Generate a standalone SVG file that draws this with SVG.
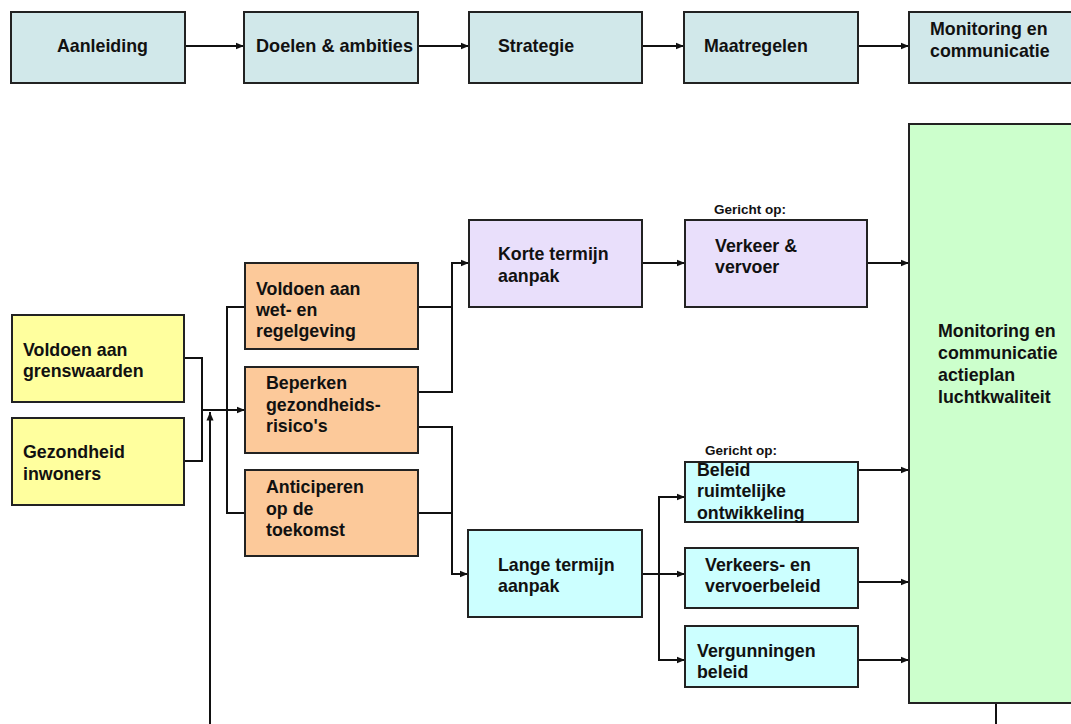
<svg xmlns="http://www.w3.org/2000/svg" width="1071" height="724" viewBox="0 0 1071 724">
<style>
.b{stroke:#222;stroke-width:2}
.top{fill:#D1E8EA}
.yel{fill:#FFFF9E}
.org{fill:#FCC99A}
.lav{fill:#E9DFFB}
.cyn{fill:#CCFFFF}
.grn{fill:#CCFFCC}
text{font-family:"Liberation Sans",Arial,sans-serif;font-size:17.8px;font-weight:bold;fill:#111}
.sm{font-size:13.5px}
.c{fill:none;stroke:#111;stroke-width:2}
</style>
<defs>
<marker id="ar" markerUnits="userSpaceOnUse" markerWidth="9" markerHeight="8" refX="8.5" refY="4" orient="auto">
<path d="M0,0.5 L8.5,4 L0,7.5 z" fill="#111"/>
</marker>
</defs>
<rect width="1071" height="724" fill="#fff"/>
<g id="connectors">
<line class="c" x1="185" y1="46" x2="244" y2="46" marker-end="url(#ar)"/>
<line class="c" x1="418" y1="46" x2="469" y2="46" marker-end="url(#ar)"/>
<line class="c" x1="642" y1="46" x2="684" y2="46" marker-end="url(#ar)"/>
<line class="c" x1="858" y1="46" x2="909" y2="46" marker-end="url(#ar)"/>
<polyline class="c" points="184,358 202,358 202,461 184,461"/>
<line class="c" x1="202" y1="410" x2="245" y2="410" marker-end="url(#ar)"/>
<polyline class="c" points="245,307 227,307 227,513 245,513"/>
<line class="c" x1="210" y1="724" x2="210" y2="412" marker-end="url(#ar)"/>
<polyline class="c" points="418,307 452,307"/>
<polyline class="c" points="418,392 452,392 452,263 469,263" marker-end="url(#ar)"/>
<polyline class="c" points="418,427 452,427 452,574 468,574" marker-end="url(#ar)"/>
<line class="c" x1="418" y1="513" x2="452" y2="513"/>
<line class="c" x1="642" y1="263" x2="685" y2="263" marker-end="url(#ar)"/>
<line class="c" x1="858" y1="263" x2="909" y2="263" marker-end="url(#ar)"/>
<line class="c" x1="642" y1="574" x2="685" y2="574" marker-end="url(#ar)"/>
<polyline class="c" points="685,497 659,497 659,660 685,660" marker-end="url(#ar)"/>
<line class="c" x1="659" y1="497" x2="685" y2="497" marker-end="url(#ar)"/>
<line class="c" x1="858" y1="470" x2="909" y2="470" marker-end="url(#ar)"/>
<line class="c" x1="858" y1="582" x2="909" y2="582" marker-end="url(#ar)"/>
<line class="c" x1="858" y1="660" x2="909" y2="660" marker-end="url(#ar)"/>
<line class="c" x1="996" y1="703" x2="996" y2="724"/>
</g>
<g id="n-aanleiding"><rect class="b top" x="11" y="12" width="174" height="71"/><text x="57" y="52">Aanleiding</text></g>
<g id="n-doelen"><rect class="b top" x="244" y="12" width="174" height="71"/><text x="256" y="52" textLength="157" lengthAdjust="spacingAndGlyphs">Doelen &amp; ambities</text></g>
<g id="n-strategie"><rect class="b top" x="469" y="12" width="173" height="71"/><text x="498" y="52">Strategie</text></g>
<g id="n-maatregelen"><rect class="b top" x="684" y="12" width="174" height="71"/><text x="704" y="52">Maatregelen</text></g>
<g id="n-monitoring-top"><rect class="b top" x="909" y="12" width="170" height="71"/><text x="930" y="35">Monitoring en</text><text x="930" y="57">communicatie</text></g>
<g id="n-grenswaarden"><rect class="b yel" x="12" y="315" width="172" height="87"/><text x="23" y="356">Voldoen aan</text><text x="23" y="377">grenswaarden</text></g>
<g id="n-gezondheid"><rect class="b yel" x="12" y="418" width="172" height="87"/><text x="23" y="458">Gezondheid</text><text x="23" y="480">inwoners</text></g>
<g id="n-wet"><rect class="b org" x="245" y="263" width="173" height="86"/><text x="256" y="295">Voldoen aan</text><text x="256" y="316">wet- en</text><text x="256" y="337">regelgeving</text></g>
<g id="n-beperken"><rect class="b org" x="245" y="367" width="173" height="86"/><text x="266" y="389">Beperken</text><text x="266" y="411">gezondheids-</text><text x="266" y="432">risico's</text></g>
<g id="n-anticiperen"><rect class="b org" x="245" y="470" width="173" height="86"/><text x="266" y="493">Anticiperen</text><text x="266" y="515">op de</text><text x="266" y="536">toekomst</text></g>
<g id="n-korte"><rect class="b lav" x="469" y="220" width="173" height="87"/><text x="498" y="260">Korte termijn</text><text x="498" y="282">aanpak</text></g>
<g id="n-verkeer"><text class="sm" x="714" y="214">Gericht op:</text><rect class="b lav" x="685" y="220" width="182" height="87"/><text x="715" y="252">Verkeer &amp;</text><text x="715" y="273">vervoer</text></g>
<g id="n-lange"><rect class="b cyn" x="468" y="530" width="174" height="87"/><text x="498" y="571">Lange termijn</text><text x="498" y="592">aanpak</text></g>
<g id="n-ruimtelijk"><text class="sm" x="705" y="455">Gericht op:</text><rect class="b cyn" x="685" y="462" width="173" height="60"/><text x="697" y="476">Beleid</text><text x="697" y="497">ruimtelijke</text><text x="697" y="519">ontwikkeling</text></g>
<g id="n-verkeersbeleid"><rect class="b cyn" x="685" y="548" width="173" height="60"/><text x="705" y="571">Verkeers- en</text><text x="705" y="592">vervoerbeleid</text></g>
<g id="n-vergunningen"><rect class="b cyn" x="685" y="626" width="173" height="61"/><text x="697" y="657">Vergunningen</text><text x="697" y="678">beleid</text></g>
<g id="n-monitoring"><rect class="b grn" x="909" y="124" width="170" height="579"/><text x="938" y="337">Monitoring en</text><text x="938" y="359">communicatie</text><text x="938" y="381">actieplan</text><text x="938" y="403">luchtkwaliteit</text></g>
</svg>
